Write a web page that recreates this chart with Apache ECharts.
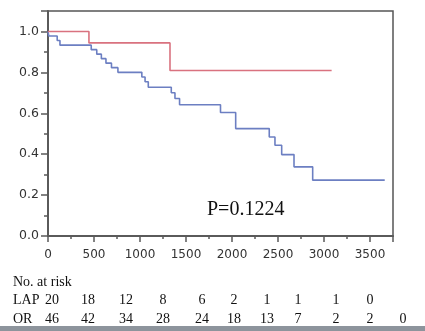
<!DOCTYPE html>
<html>
<head>
<meta charset="utf-8">
<script src="https://cdn.jsdelivr.net/npm/echarts@6/dist/echarts.min.js"></script>
<style>
  html, body { margin: 0; padding: 0; background: #fff; }
  #chart { width: 425px; height: 331px; }
</style>
</head>
<body>
<div id="chart"></div>
<script>
// Kaplan-Meier survival estimates: [days, survival after the event at that day]
const lapCurve = [
  [0, 1.0], [445, 0.944], [1326, 0.809], [3083, 0.809]
];
const orCurve = [
  [0, 1.0], [8, 0.978], [100, 0.956], [130, 0.933],
  [470, 0.911], [530, 0.889], [580, 0.867], [630, 0.845], [690, 0.823], [760, 0.80],
  [1020, 0.777], [1055, 0.754], [1090, 0.727],
  [1340, 0.70], [1380, 0.672], [1430, 0.642],
  [1875, 0.604], [2040, 0.525], [2405, 0.484], [2467, 0.444],
  [2540, 0.398], [2674, 0.338], [2877, 0.273], [3660, 0.273]
];

// Number-at-risk table
const riskTitle = 'No. at risk';
const groupNames = ['LAP', 'OR'];
const lapAtRisk = [20, 18, 12, 8, 6, 2, 1, 1, 1, 0];
const orAtRisk = [46, 42, 34, 28, 24, 18, 13, 7, 2, 2, 0];
const pValueText = 'P=0.1224';

// Table layout (pixel columns and rows)
const colX = [52, 88, 126, 163, 202, 234, 267, 298, 336, 370, 403];
const rowY = [282, 300, 319];
const nameX = 13;

const chart = echarts.init(document.getElementById('chart'), null, { renderer: 'canvas' });

const serif = '"Liberation Serif", "Times New Roman", serif';
const tableFont = { fontFamily: serif, fontSize: 14, fill: '#111', textVerticalAlign: 'middle' };

const graphics = [];
graphics.push({
  type: 'text', x: nameX, y: rowY[0],
  style: Object.assign({ text: riskTitle, textAlign: 'left' }, tableFont)
});
[lapAtRisk, orAtRisk].forEach((row, r) => {
  graphics.push({
    type: 'text', x: nameX, y: rowY[r + 1],
    style: Object.assign({ text: groupNames[r], textAlign: 'left' }, tableFont)
  });
  row.forEach((v, i) => {
    graphics.push({
      type: 'text', x: colX[i], y: rowY[r + 1],
      style: Object.assign({ text: String(v), textAlign: 'center' }, tableFont)
    });
  });
});
graphics.push({
  type: 'text', x: 207, y: 210,
  style: { text: pValueText, fontFamily: serif, fontSize: 20, fill: '#111', textVerticalAlign: 'middle' }
});
graphics.push({
  type: 'rect', shape: { x: 0, y: 326, width: 425, height: 5 },
  style: { fill: '#8d949c' }
});

const labelFont = '"DejaVu Sans", Verdana, sans-serif';

const option = {
  animation: false,
  backgroundColor: '#fff',
  grid: {
    left: 48, right: 32, top: 11, bottom: 95,
    show: true, borderColor: '#555', borderWidth: 1.5, backgroundColor: 'transparent'
  },
  xAxis: {
    type: 'value', min: 0, max: 3750, interval: 500,
    axisLine: { show: true, onZero: false, lineStyle: { color: '#5a5a5a', width: 2 } },
    axisTick: { show: true, length: 6, lineStyle: { color: '#5a5a5a', width: 1.5 } },
    minorTick: { show: true, splitNumber: 2, length: 3, lineStyle: { color: '#5a5a5a', width: 1.5 } },
    splitLine: { show: false },
    axisLabel: {
      margin: 13, color: '#333', fontFamily: labelFont, fontSize: 12,
      showMaxLabel: false,
      formatter: v => (v % 500 === 0 ? String(v) : '')
    }
  },
  yAxis: {
    type: 'value', min: 0, max: 1.1, interval: 0.2,
    axisLine: { show: true, onZero: false, lineStyle: { color: '#5a5a5a', width: 2 } },
    axisTick: { show: true, length: 7, lineStyle: { color: '#5a5a5a', width: 1.5 } },
    minorTick: { show: true, splitNumber: 2, length: 4, lineStyle: { color: '#5a5a5a', width: 1.5 } },
    splitLine: { show: false },
    axisLabel: {
      margin: 9, color: '#333', fontFamily: labelFont, fontSize: 12.5,
      showMaxLabel: false,
      formatter: v => (Math.abs(v * 5 - Math.round(v * 5)) < 1e-6 ? v.toFixed(1) : '')
    }
  },
  series: [
    {
      name: 'LAP', type: 'line', step: 'end', data: lapCurve,
      symbol: 'none', lineStyle: { color: '#d9727f', width: 1.6 }, z: 3
    },
    {
      name: 'OR', type: 'line', step: 'end', data: orCurve,
      symbol: 'none', lineStyle: { color: '#6c7fc2', width: 1.6 }, z: 2
    }
  ],
  graphic: graphics
};

chart.setOption(option);
</script>
</body>
</html>
